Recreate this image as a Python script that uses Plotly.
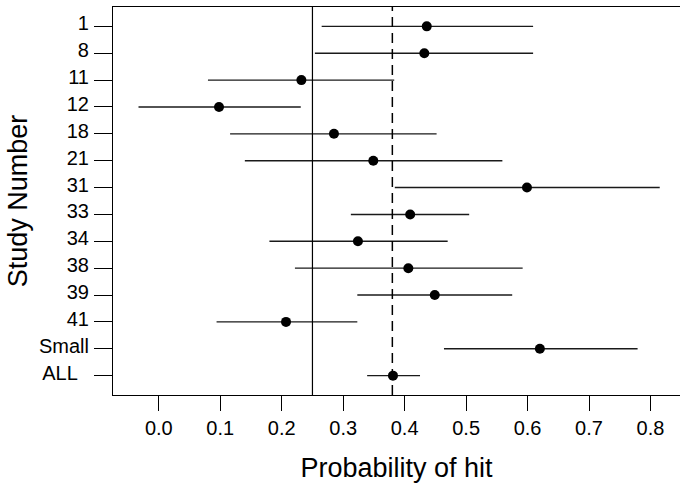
import plotly.graph_objects as go

studies = ["1", "8", "11", "12", "18", "21", "31", "33", "34", "38", "39", "41", "Small", "ALL\u00a0\u00a0"]
estimate = [0.436, 0.432, 0.232, 0.098, 0.285, 0.349, 0.599, 0.409, 0.324, 0.406, 0.449, 0.207, 0.620, 0.381]
lower = [0.265, 0.254, 0.080, -0.033, 0.116, 0.140, 0.384, 0.3125, 0.180, 0.2215, 0.323, 0.094, 0.464, 0.339]
upper = [0.609, 0.609, 0.383, 0.231, 0.452, 0.559, 0.815, 0.505, 0.470, 0.592, 0.575, 0.323, 0.779, 0.425]
chance_level = 0.25
pooled_level = 0.38
x_ticks = [0.0, 0.1, 0.2, 0.3, 0.4, 0.5, 0.6, 0.7, 0.8]

err_plus = [u - e for u, e in zip(upper, estimate)]
err_minus = [e - l for e, l in zip(estimate, lower)]

font_family = "Liberation Sans, Arial, sans-serif"

fig = go.Figure()
fig.add_trace(go.Scatter(
    x=estimate,
    y=studies,
    mode="markers",
    marker=dict(color="black", size=10),
    error_x=dict(type="data", symmetric=False, array=err_plus, arrayminus=err_minus,
                 width=0, thickness=1.4, color="#1a1a1a"),
    showlegend=False,
    hoverinfo="skip",
))

fig.add_vline(x=chance_level, line=dict(color="black", width=1.2))
fig.add_vline(x=pooled_level, line=dict(color="black", width=1.5, dash="10px,6px"))

fig.update_layout(
    width=680,
    height=485,
    margin=dict(l=113, r=0, t=7, b=90),
    paper_bgcolor="white",
    plot_bgcolor="white",
    font=dict(family=font_family, color="black"),
    xaxis=dict(
        range=[-0.0745, 0.848],
        tickvals=x_ticks,
        ticktext=[f"{v:.1f}" for v in x_ticks],
        ticks="outside",
        ticklen=15,
        tickwidth=1,
        tickcolor="black",
        tickfont=dict(size=20),
        showline=True,
        linecolor="black",
        linewidth=1.2,
        mirror=True,
        showgrid=False,
        zeroline=False,
        automargin=False,
        title=dict(text="Probability of hit", font=dict(size=27), standoff=20),
    ),
    yaxis=dict(
        type="category",
        categoryorder="array",
        categoryarray=studies,
        range=[13.72, -0.72],
        ticks="outside",
        ticklen=18,
        tickwidth=1,
        tickcolor="black",
        tickfont=dict(size=20),
        ticklabelstandoff=1,
        ticklabelshift=3,
        showline=True,
        linecolor="black",
        linewidth=1.2,
        showgrid=False,
        zeroline=False,
        automargin=False,
        title=dict(text="Study Number", font=dict(size=27), standoff=3),
    ),
)

fig.write_html(
    "out.html",
    config={"displayModeBar": False},
    post_script="document.body.style.margin='0';document.body.style.overflow='hidden';",
)
